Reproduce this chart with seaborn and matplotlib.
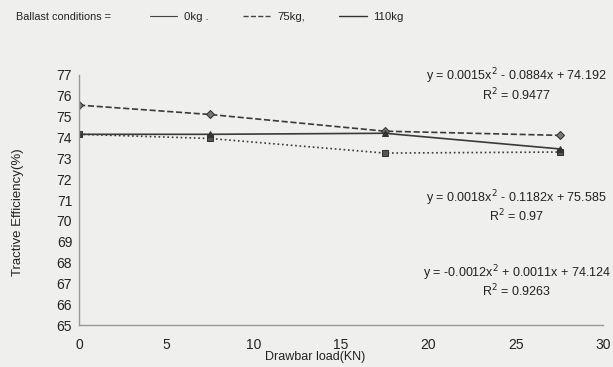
import numpy as np
import matplotlib
matplotlib.use("Agg")
import matplotlib.pyplot as plt
import seaborn as sns
import pandas as pd
from matplotlib.lines import Line2D

# drawbar load (KN) and tractive efficiency (%) for each ballast condition
load = [0, 7.5, 17.5, 27.5]
eff_0kg = [74.15, 73.95, 73.25, 73.3]
eff_75kg = [75.55, 75.1, 74.3, 74.1]
eff_110kg = [74.15, 74.15, 74.2, 73.45]

labels = ["0kg .", "75kg,", "110kg"]
equations = ["y = 0.0015x$^2$ - 0.0884x + 74.192\nR$^2$ = 0.9477",
             "y = 0.0018x$^2$ - 0.1182x + 75.585\nR$^2$ = 0.97",
             "y = -0.0012x$^2$ + 0.0011x + 74.124\nR$^2$ = 0.9263"]
eq_ypos = [0.96, 0.475, 0.175]

df = pd.DataFrame({"load": load * 3,
                   "eff": eff_0kg + eff_75kg + eff_110kg,
                   "ballast": ["0kg"] * 4 + ["75kg"] * 4 + ["110kg"] * 4})

sns.set_style("white")
plt.rcParams["font.family"] = ["Liberation Sans", "DejaVu Sans"]
bg = "#efefed"
fig = plt.figure(figsize=(6.13, 3.67), dpi=100, facecolor=bg)
ax = fig.add_axes([0.129, 0.114, 0.855, 0.682], facecolor=bg)

styles = {"0kg": (":", "s", "#555555"),
          "75kg": ("--", "D", "#777777"),
          "110kg": ("-", "^", "#333333")}
for name in ["0kg", "75kg", "110kg"]:
    ls, mk, mc = styles[name]
    sns.lineplot(data=df[df.ballast == name], x="load", y="eff", ax=ax,
                 color="#3a3a3a", linestyle=ls, linewidth=1.2,
                 marker=mk, markersize=4.5, markerfacecolor=mc,
                 markeredgecolor="#333333", legend=False)

ax.set_xlim(0, 30)
ax.set_ylim(65, 77)
ax.set_xticks(range(0, 31, 5))
ax.set_yticks(range(65, 78))
ax.tick_params(axis="both", labelsize=10, colors="#222222", length=3,
               width=0.8, color="#999999", pad=2)
ax.tick_params(axis="x", pad=6)
for s in ["top", "right"]:
    ax.spines[s].set_visible(False)
for s in ["left", "bottom"]:
    ax.spines[s].set_color("#999999")
    ax.spines[s].set_linewidth(1)
ax.set_xlabel("Drawbar load(KN)", fontsize=9, color="#222222")
ax.set_ylabel("Tractive Efficiency(%)", fontsize=9.5, color="#222222")
ax.xaxis.set_label_coords(0.45, -0.105)
ax.yaxis.set_label_coords(-0.105, 0.45)

for eq, yp in zip(equations, eq_ypos):
    ax.text(0.835, yp, eq, transform=ax.transAxes, ha="center", va="center",
            fontsize=9, color="#222222", linespacing=1.0, clip_on=False)

fig.text(0.026, 0.955, "Ballast conditions =", fontsize=7.8, color="#222222",
         va="center")
handles = [Line2D([], [], color="#444444", linestyle="-", linewidth=0.8),
           Line2D([], [], color="#444444", linestyle="--", linewidth=1),
           Line2D([], [], color="#333333", linestyle="-", linewidth=1)]
fig.legend(handles, labels, ncol=3, frameon=False, loc="center left",
           bbox_to_anchor=(0.228, 0.955), fontsize=8.2, handlelength=2.4,
           columnspacing=3.0, handletextpad=0.6, labelcolor="#222222")

fig.savefig("out.png", dpi=100, facecolor=bg)
